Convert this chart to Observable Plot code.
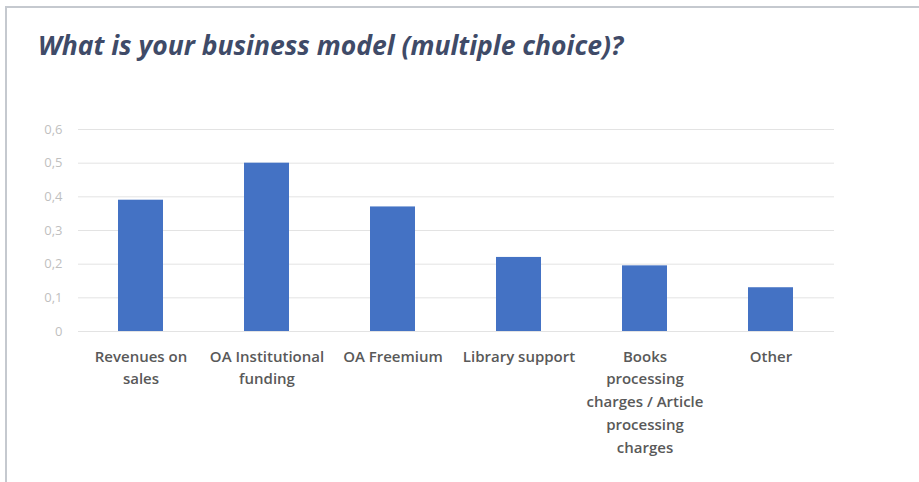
<!DOCTYPE html>
<html>
<head>
<meta charset="utf-8">
<script src="https://cdn.jsdelivr.net/npm/d3@7"></script>
<script src="https://cdn.jsdelivr.net/npm/@observablehq/plot@0.6"></script>
<style>
  html, body { margin: 0; padding: 0; background: #ffffff; width: 919px; height: 482px; overflow: hidden; }
  #frame { position: absolute; left: 5px; top: 6px; width: 940px; height: 500px;
           border-top: 2px solid #c5c9cf; border-left: 2px solid #c5c9cf; box-sizing: border-box; }
  #title { position: absolute; left: 38px; top: 27px; margin: 0;
           font-family: "Open Sans", Lato, sans-serif; font-style: italic; font-weight: 700;
           font-size: 26.5px; color: #3f4b68; white-space: nowrap; }
  #chart { position: absolute; left: 0; top: 0; }
</style>
</head>
<body>
<div id="frame"></div>
<div id="title">What is your business model (multiple choice)?</div>
<div id="chart"></div>
<script>
const categories = ["Revenues on sales", "OA Institutional funding", "OA Freemium", "Library support",
  "Books processing charges / Article processing charges", "Other"];
const tickLabels = ["Revenues on\nsales", "OA Institutional\nfunding", "OA Freemium", "Library support",
  "Books\nprocessing\ncharges / Article\nprocessing\ncharges", "Other"];
const values = [0.39, 0.50, 0.37, 0.22, 0.195, 0.13];
const yTicks = [0, 0.1, 0.2, 0.3, 0.4, 0.5, 0.6];

const data = categories.map((c, i) => ({category: c, value: values[i]}));
const labelOf = new Map(categories.map((c, i) => [c, tickLabels[i]]));

const chart = Plot.plot({
  width: 919,
  height: 482,
  marginTop: 129,
  marginBottom: 151,
  marginLeft: 78,
  marginRight: 85,
  style: {background: "transparent", overflow: "visible"},
  x: {domain: categories, paddingInner: 0.64, paddingOuter: 0.32, label: null},
  y: {domain: [0, 0.6], label: null},
  marks: [
    Plot.gridY(yTicks, {stroke: "#e3e3e3", strokeOpacity: 1, strokeWidth: 1}),
    Plot.barY(data, {x: "category", y: "value", fill: "#4472c4"}),
    Plot.axisY(yTicks, {
      tickSize: 0, tickPadding: 16, fontSize: 13, fill: "#bfbfbf",
      fontFamily: "'Open Sans', Lato, sans-serif",
      tickFormat: d => d === 0 ? "0" : d.toFixed(1).replace(".", ","),
      label: null
    }),
    Plot.axisX({
      tickSize: 0, tickPadding: 14, fontSize: 15, fontWeight: 600, fill: "#595959",
      fontFamily: "'Open Sans', Lato, sans-serif",
      lineHeight: 1.52,
      tickFormat: d => labelOf.get(d),
      label: null
    })
  ]
});
document.getElementById("chart").appendChild(chart);
</script>
</body>
</html>
